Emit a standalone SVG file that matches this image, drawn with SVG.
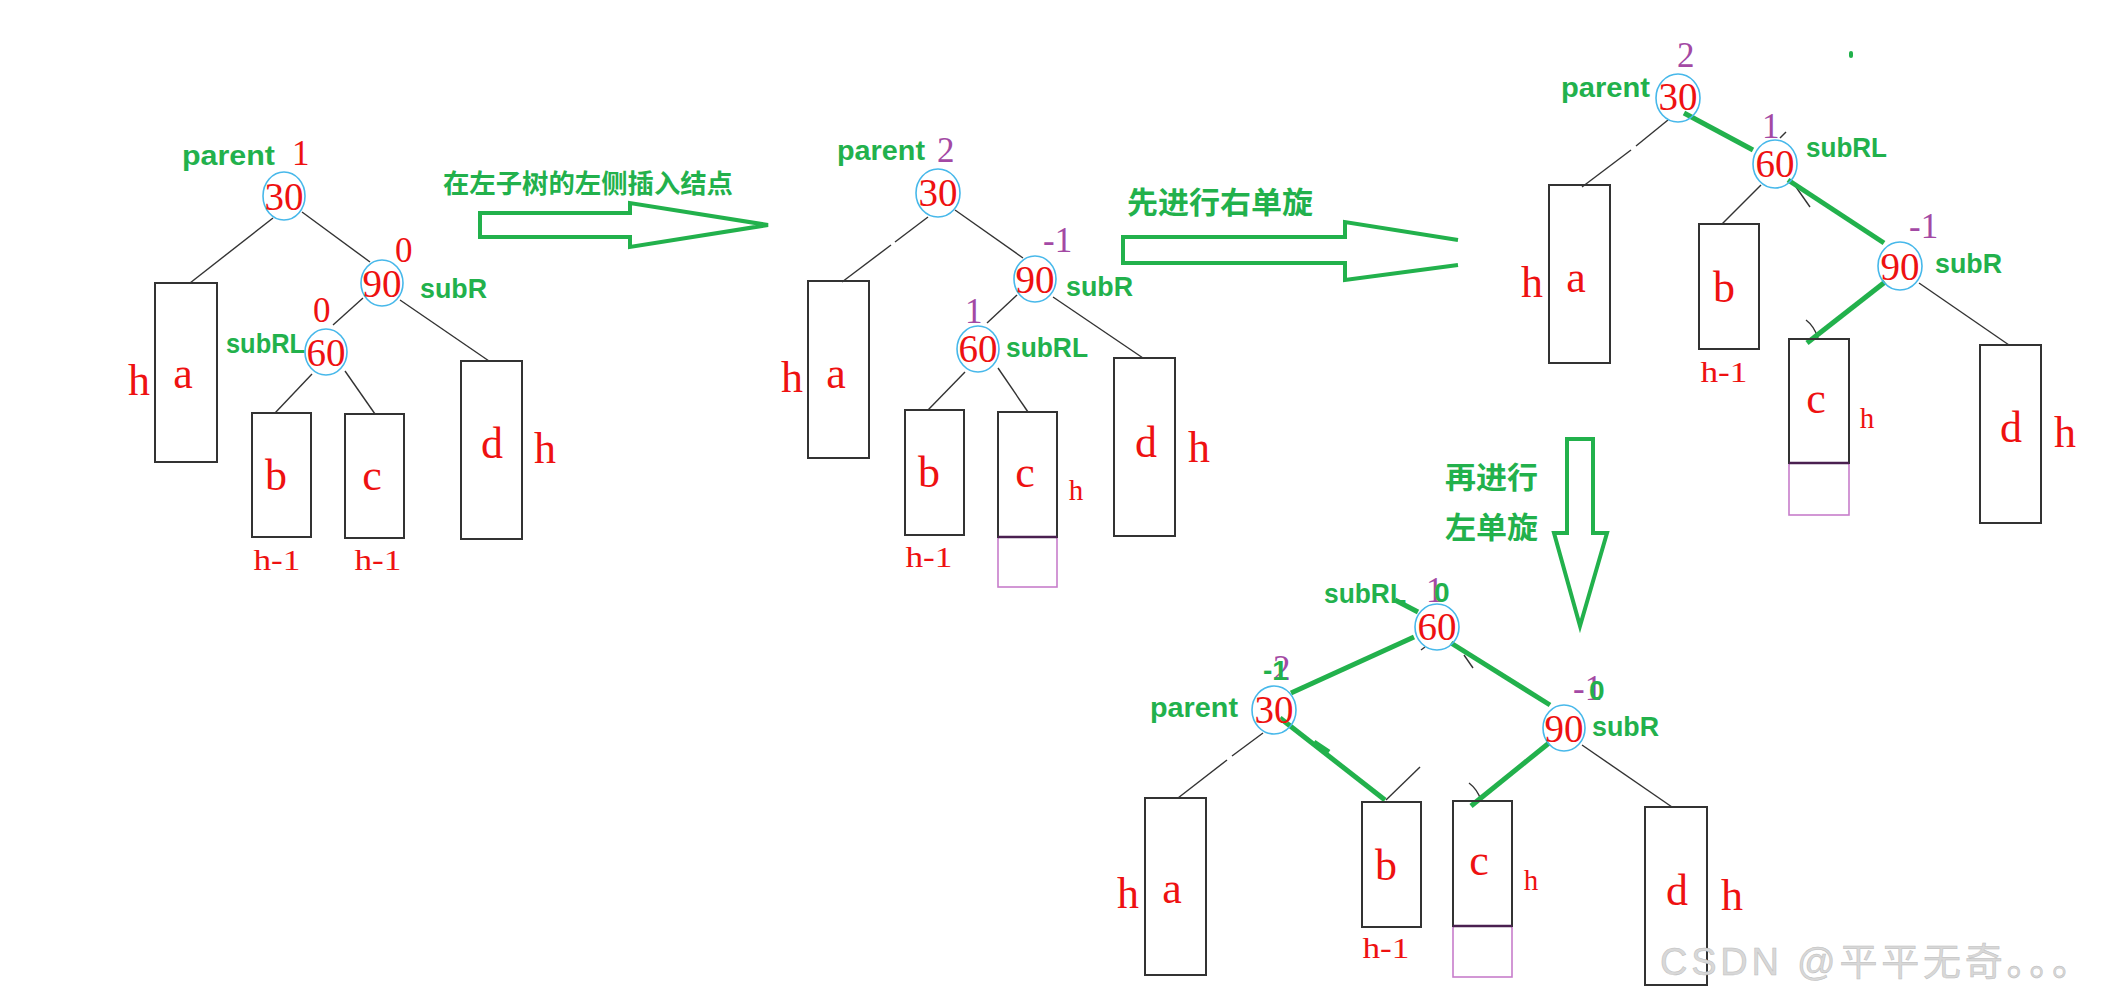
<svg xmlns="http://www.w3.org/2000/svg" width="2109" height="997" viewBox="0 0 2109 997">
<style>
.bg{fill:#ffffff}
.circ{fill:none;stroke:#47B8EA;stroke-width:1.6}
.num{font-family:"Liberation Serif",serif;font-size:39px;fill:#EE1111;text-anchor:middle}
.box{fill:none;stroke:#333333;stroke-width:2}
.pbox{fill:none;stroke:#C77DCB;stroke-width:1.6}
.cbot{stroke:#4A2050;stroke-width:2.6}
.lbl{font-family:"Liberation Serif",serif;font-size:44px;fill:#EE1111;text-anchor:middle}
.sm{font-family:"Liberation Serif",serif;font-size:29px;fill:#EE1111;text-anchor:middle}
.bfr{font-family:"Liberation Serif",serif;font-size:35px;fill:#EE1111}
.bfp{font-family:"Liberation Serif",serif;font-size:35px;fill:#A349A4}
.gl{font-family:"Liberation Sans",Arial,sans-serif;font-weight:bold;font-size:28px;fill:#22B14C}
.cn{font-family:"Noto Sans CJK SC",sans-serif;font-weight:bold;fill:#22B14C}
.edge{stroke:#333333;stroke-width:1.4;fill:none}
.gedge{stroke:#22B14C;stroke-width:5;fill:none}
.arrow{fill:none;stroke:#22B14C;stroke-width:4;stroke-linejoin:miter}
.wm{font-family:"Liberation Sans","Noto Sans CJK SC",sans-serif;font-size:38px;fill:#D8D8D8;stroke:#BDBDBD;stroke-width:0.5}
</style>
<rect class="bg" x="0" y="0" width="2109" height="997"/>

<g id="connectors">
  <!-- tree 1 -->
  <line class="edge" x1="273" y1="218" x2="190" y2="283"/>
  <line class="edge" x1="302" y1="212" x2="370" y2="262"/>
  <line class="edge" x1="363" y1="298" x2="333" y2="325"/>
  <line class="edge" x1="312" y1="374" x2="275" y2="413"/>
  <line class="edge" x1="345" y1="371" x2="375" y2="414"/>
  <line class="edge" x1="400" y1="300" x2="489" y2="361"/>
  <!-- tree 2 -->
  <line class="edge" x1="928" y1="217" x2="895" y2="242"/>
  <line class="edge" x1="891" y1="245" x2="842" y2="282"/>
  <line class="edge" x1="955" y1="210" x2="1023" y2="258"/>
  <line class="edge" x1="1017" y1="295" x2="987" y2="323"/>
  <line class="edge" x1="965" y1="372" x2="928" y2="410"/>
  <line class="edge" x1="998" y1="368" x2="1028" y2="412"/>
  <line class="edge" x1="1053" y1="297" x2="1143" y2="358"/>
  <!-- tree 3 -->
  <line class="edge" x1="1668" y1="120" x2="1636" y2="146"/>
  <line class="edge" x1="1631" y1="150" x2="1582" y2="187"/>
  <line class="edge" x1="1761" y1="185" x2="1722" y2="224"/>
  <line class="edge" x1="1919" y1="283" x2="2009" y2="345"/>
  <line class="edge" x1="1780" y1="138" x2="1786" y2="132"/>
  <line class="edge" x1="1796" y1="187" x2="1810" y2="207"/>
  <path class="edge" d="M1806 320 Q1814 326 1818 338"/>
  <line class="gedge" x1="1684" y1="113" x2="1753" y2="150"/>
  <line class="gedge" x1="1788" y1="180" x2="1884" y2="243"/>
  <line class="gedge" x1="1885" y1="282" x2="1807" y2="343"/>
  <!-- tree 4 -->
  <line class="edge" x1="1263" y1="733" x2="1232" y2="756"/>
  <line class="edge" x1="1227" y1="760" x2="1178" y2="798"/>
  <line class="edge" x1="1582" y1="745" x2="1672" y2="807"/>
  <line class="edge" x1="1386" y1="800" x2="1420" y2="767"/>
  <path class="edge" d="M1469 783 Q1477 789 1481 800"/>
  <line class="edge" x1="1421" y1="650" x2="1425" y2="647"/>
  <line class="edge" x1="1464" y1="655" x2="1473" y2="668"/>
  <line class="gedge" x1="1395" y1="600" x2="1418" y2="612"/>
  <line class="gedge" x1="1414" y1="637" x2="1291" y2="693"/>
  <line class="gedge" x1="1451" y1="643" x2="1550" y2="705"/>
  <line class="gedge" x1="1385" y1="800" x2="1280" y2="718"/>
  <line class="gedge" x1="1314" y1="742" x2="1329" y2="752" stroke-width="3"/>
  <line class="gedge" x1="1549" y1="743" x2="1471" y2="806"/>
</g>

<g id="arrow-insert">
  <polygon class="arrow" points="480,213 630,213 630,203 768,225 630,247 630,237 480,237"/>
  <text class="cn" x="443" y="193" font-size="26" textLength="290" lengthAdjust="spacingAndGlyphs">在左子树的左侧插入结点</text>
</g>
<g id="arrow-right-rotate">
  <polyline class="arrow" points="1458,240 1345,222 1345,237 1123,237 1123,263 1345,263 1345,280 1458,265"/>
  <text class="cn" x="1127" y="213" font-size="30" textLength="186" lengthAdjust="spacingAndGlyphs">先进行右单旋</text>
</g>
<g id="arrow-left-rotate">
  <polygon class="arrow" points="1567,439 1593,439 1593,533 1607,533 1580,626 1554,533 1567,533"/>
  <text class="cn" x="1445" y="488" font-size="30" textLength="93" lengthAdjust="spacingAndGlyphs">再进行</text>
  <text class="cn" x="1445" y="538" font-size="30" textLength="93" lengthAdjust="spacingAndGlyphs">左单旋</text>
</g>

<!-- ===== Tree 1 ===== -->
<g id="t1-n30">
  <ellipse class="circ" cx="284" cy="196" rx="21" ry="24"/>
  <text class="num" x="284" y="210">30</text>
  <text class="gl" x="182" y="165" font-size="30" textLength="93" lengthAdjust="spacingAndGlyphs">parent</text>
  <text class="bfr" x="292" y="165">1</text>
</g>
<g id="t1-n90">
  <ellipse class="circ" cx="382" cy="283" rx="21" ry="23"/>
  <text class="num" x="382" y="297">90</text>
  <text class="bfr" x="395" y="262">0</text>
  <text class="gl" x="420" y="298" textLength="67" lengthAdjust="spacingAndGlyphs">subR</text>
</g>
<g id="t1-n60">
  <ellipse class="circ" cx="326" cy="352" rx="21" ry="23"/>
  <text class="num" x="326" y="366">60</text>
  <text class="bfr" x="313" y="322">0</text>
  <text class="gl" x="226" y="353" textLength="79" lengthAdjust="spacingAndGlyphs">subRL</text>
</g>
<g id="t1-a">
  <rect class="box" x="155" y="283" width="62" height="179"/>
  <text class="lbl" x="183" y="388">a</text>
  <text class="lbl" x="139" y="395">h</text>
</g>
<g id="t1-b">
  <rect class="box" x="252" y="413" width="59" height="124"/>
  <text class="lbl" x="276" y="490">b</text>
  <text class="sm" x="277" y="570" textLength="47" lengthAdjust="spacingAndGlyphs">h-1</text>
</g>
<g id="t1-c">
  <rect class="box" x="345" y="414" width="59" height="124"/>
  <text class="lbl" x="372" y="490">c</text>
  <text class="sm" x="378" y="570" textLength="47" lengthAdjust="spacingAndGlyphs">h-1</text>
</g>
<g id="t1-d">
  <rect class="box" x="461" y="361" width="61" height="178"/>
  <text class="lbl" x="492" y="458">d</text>
  <text class="lbl" x="545" y="463">h</text>
</g>

<!-- ===== Tree 2 ===== -->
<g id="t2-n30">
  <ellipse class="circ" cx="938" cy="193" rx="22" ry="24"/>
  <text class="num" x="938" y="206">30</text>
  <text class="gl" x="837" y="160" textLength="88" lengthAdjust="spacingAndGlyphs">parent</text>
  <text class="bfp" x="937" y="162">2</text>
</g>
<g id="t2-n90">
  <ellipse class="circ" cx="1035" cy="279" rx="21" ry="23"/>
  <text class="num" x="1035" y="293">90</text>
  <text class="bfp" x="1043" y="252">-1</text>
  <text class="gl" x="1066" y="296" textLength="67" lengthAdjust="spacingAndGlyphs">subR</text>
</g>
<g id="t2-n60">
  <ellipse class="circ" cx="978" cy="349" rx="21" ry="23"/>
  <text class="num" x="978" y="362">60</text>
  <text class="bfp" x="965" y="323">1</text>
  <text class="gl" x="1006" y="357" textLength="82" lengthAdjust="spacingAndGlyphs">subRL</text>
</g>
<g id="t2-a">
  <rect class="box" x="808" y="281" width="61" height="177"/>
  <text class="lbl" x="836" y="388">a</text>
  <text class="lbl" x="792" y="392">h</text>
</g>
<g id="t2-b">
  <rect class="box" x="905" y="410" width="59" height="125"/>
  <text class="lbl" x="929" y="487">b</text>
  <text class="sm" x="929" y="567" textLength="47" lengthAdjust="spacingAndGlyphs">h-1</text>
</g>
<g id="t2-c">
  <rect class="pbox" x="998" y="537" width="59" height="50"/>
  <rect class="box" x="998" y="412" width="59" height="125"/>
  <line class="cbot" x1="998" y1="537" x2="1057" y2="537"/>
  <text class="lbl" x="1025" y="487">c</text>
  <text class="sm" x="1076" y="500">h</text>
</g>
<g id="t2-d">
  <rect class="box" x="1114" y="358" width="61" height="178"/>
  <text class="lbl" x="1146" y="457">d</text>
  <text class="lbl" x="1199" y="462">h</text>
</g>

<!-- ===== Tree 3 ===== -->
<g id="t3-n30">
  <ellipse class="circ" cx="1678" cy="98" rx="22" ry="24"/>
  <text class="num" x="1678" y="110">30</text>
  <text class="gl" x="1561" y="97" textLength="89" lengthAdjust="spacingAndGlyphs">parent</text>
  <text class="bfp" x="1677" y="67">2</text>
</g>
<g id="t3-n60">
  <ellipse class="circ" cx="1775" cy="164" rx="22" ry="24"/>
  <text class="num" x="1775" y="177">60</text>
  <text class="bfp" x="1762" y="138">1</text>
  <text class="gl" x="1806" y="157" textLength="81" lengthAdjust="spacingAndGlyphs">subRL</text>
</g>
<g id="t3-n90">
  <ellipse class="circ" cx="1900" cy="266" rx="22" ry="24"/>
  <text class="num" x="1900" y="280">90</text>
  <text class="bfp" x="1909" y="238">-1</text>
  <text class="gl" x="1935" y="273" textLength="67" lengthAdjust="spacingAndGlyphs">subR</text>
</g>
<g id="t3-a">
  <rect class="box" x="1549" y="185" width="61" height="178"/>
  <text class="lbl" x="1576" y="292">a</text>
  <text class="lbl" x="1532" y="297">h</text>
</g>
<g id="t3-b">
  <rect class="box" x="1699" y="224" width="60" height="125"/>
  <text class="lbl" x="1724" y="302">b</text>
  <text class="sm" x="1724" y="382" textLength="47" lengthAdjust="spacingAndGlyphs">h-1</text>
</g>
<g id="t3-c">
  <rect class="pbox" x="1789" y="463" width="60" height="52"/>
  <rect class="box" x="1789" y="339" width="60" height="124"/>
  <line class="cbot" x1="1789" y1="463" x2="1849" y2="463"/>
  <text class="lbl" x="1816" y="413">c</text>
  <text class="sm" x="1867" y="428">h</text>
</g>
<g id="t3-d">
  <rect class="box" x="1980" y="345" width="61" height="178"/>
  <text class="lbl" x="2011" y="442">d</text>
  <text class="lbl" x="2065" y="447">h</text>
</g>
<rect id="dot" x="1849" y="51" width="4" height="7" rx="2" fill="#22B14C"/>

<!-- ===== Tree 4 ===== -->
<g id="t4-n60">
  <ellipse class="circ" cx="1437" cy="627" rx="22" ry="23"/>
  <text class="num" x="1437" y="640">60</text>
  <text class="gl" x="1324" y="603" textLength="82" lengthAdjust="spacingAndGlyphs">subRL</text>
  <text class="bfp" x="1426" y="602">1</text>
  <text class="gl" x="1434" y="602">0</text>
</g>
<g id="t4-n30">
  <ellipse class="circ" cx="1274" cy="710" rx="22" ry="24"/>
  <text class="num" x="1274" y="723">30</text>
  <text class="gl" x="1150" y="717" textLength="88" lengthAdjust="spacingAndGlyphs">parent</text>
  <text class="bfp" x="1273" y="680">2</text>
  <text class="gl" x="1263" y="680">-1</text>
</g>
<g id="t4-n90">
  <ellipse class="circ" cx="1564" cy="728" rx="21" ry="23"/>
  <text class="num" x="1564" y="742">90</text>
  <text class="bfp" x="1573" y="700">-1</text>
  <text class="gl" x="1589" y="700">0</text>
  <text class="gl" x="1592" y="736" textLength="67" lengthAdjust="spacingAndGlyphs">subR</text>
</g>
<g id="t4-a">
  <rect class="box" x="1145" y="798" width="61" height="177"/>
  <text class="lbl" x="1172" y="903">a</text>
  <text class="lbl" x="1128" y="908">h</text>
</g>
<g id="t4-b">
  <rect class="box" x="1362" y="802" width="59" height="125"/>
  <text class="lbl" x="1386" y="880">b</text>
  <text class="sm" x="1386" y="958" textLength="47" lengthAdjust="spacingAndGlyphs">h-1</text>
</g>
<g id="t4-c">
  <rect class="pbox" x="1453" y="926" width="59" height="51"/>
  <rect class="box" x="1453" y="801" width="59" height="125"/>
  <line class="cbot" x1="1453" y1="926" x2="1512" y2="926"/>
  <text class="lbl" x="1479" y="875">c</text>
  <text class="sm" x="1531" y="890">h</text>
</g>
<g id="t4-d">
  <rect class="box" x="1645" y="807" width="62" height="178"/>
  <text class="lbl" x="1677" y="905">d</text>
  <text class="lbl" x="1732" y="910">h</text>
</g>

<text class="wm" x="1660" y="975" textLength="430" lengthAdjust="spacing">CSDN @平平无奇。。。</text>
</svg>
